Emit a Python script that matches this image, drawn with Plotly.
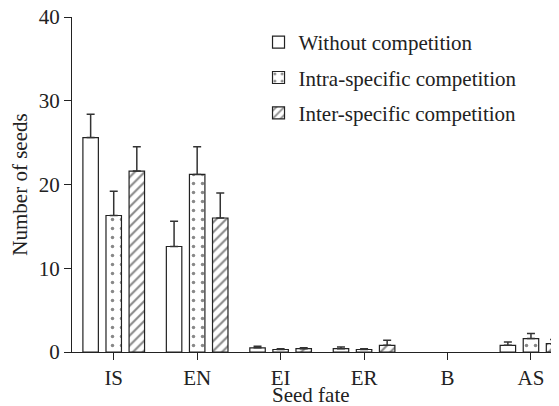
import plotly.graph_objects as go

categories = ["IS", "EN", "EI", "ER", "B", "AS"]
without_vals = [25.6, 12.6, 0.5, 0.4, 0.0, 0.8]
without_err = [2.8, 3.0, 0.2, 0.2, 0.0, 0.4]
intra_vals = [16.3, 21.2, 0.3, 0.3, 0.0, 1.6]
intra_err = [2.9, 3.3, 0.1, 0.1, 0.0, 0.6]
inter_vals = [21.6, 16.0, 0.4, 0.8, 0.0, 1.0]
inter_err = [2.9, 3.0, 0.1, 0.6, 0.0, 0.5]
series_names = ["Without competition", "Intra-specific competition", "Inter-specific competition"]
x_title = "Seed fate"
y_title = "Number of seeds"

font_family = "Liberation Serif"
x_idx = list(range(len(categories)))

def make_bar(name, vals, errs, shape, group, size, solidity):
    ys = [v if v > 0 else None for v in vals]
    es = [e if v > 0 else None for v, e in zip(vals, errs)]
    return go.Bar(
        name=name,
        x=x_idx,
        y=ys,
        legendgroup=group,
        cliponaxis=True,
        marker=dict(
            color="white",
            line=dict(color="#222", width=1.2),
            pattern=dict(shape=shape, fgcolor="#111", bgcolor="white", size=size, solidity=solidity),
        ),
        error_y=dict(type="data", array=es, arrayminus=[0] * len(errs), symmetric=False,
                     color="#333", thickness=1.5, width=4),
    )

fig = go.Figure()
fig.add_trace(make_bar(series_names[0], without_vals, without_err, "", "a", 8, 0.2))
fig.add_trace(make_bar(series_names[1], intra_vals, intra_err, ".", "b", 9, 0.12))
fig.add_trace(make_bar(series_names[2], inter_vals, inter_err, "/", "c", 7, 0.3))

fig.update_layout(
    width=551, height=398,
    margin=dict(l=64, r=0, t=9, b=54),
    paper_bgcolor="white", plot_bgcolor="white",
    barmode="group", bargap=0.17, bargroupgap=0.33,
    font=dict(family=font_family, size=21, color="#222"),
    showlegend=True,
    legend=dict(x=0.383, y=0.985, xanchor="left", yanchor="top",
                traceorder="grouped", tracegroupgap=5,
                font=dict(size=21, family=font_family, color="#222"),
                bgcolor="rgba(0,0,0,0)"),
    xaxis=dict(
        range=[-0.5, 5.336],
        tickmode="array", tickvals=x_idx, ticktext=categories,
        showline=True, linecolor="#222", linewidth=1.2,
        ticks="outside", ticklen=7, tickcolor="#222", tickwidth=1.2,
        showgrid=False, zeroline=False, automargin=False,
        ticklabeloverflow="allow",
        tickfont=dict(size=21, family=font_family),
    ),
    yaxis=dict(
        range=[0, 40],
        tickvals=[0, 10, 20, 30, 40],
        showline=True, linecolor="#222", linewidth=1.2,
        ticks="outside", ticklen=7, tickcolor="#222", tickwidth=1.2,
        showgrid=False, zeroline=False, automargin=False,
        ticklabeloverflow="allow",
        tickfont=dict(size=21, family=font_family),
        title=dict(text=y_title, font=dict(size=21, family=font_family), standoff=6),
    ),
    annotations=[dict(text=x_title, xref="paper", yref="paper", x=0.49, y=-0.129,
                      xanchor="center", yanchor="middle", showarrow=False, borderpad=0,
                      font=dict(size=21, family=font_family, color="#222"))],
)

fig.write_html("out.html")
